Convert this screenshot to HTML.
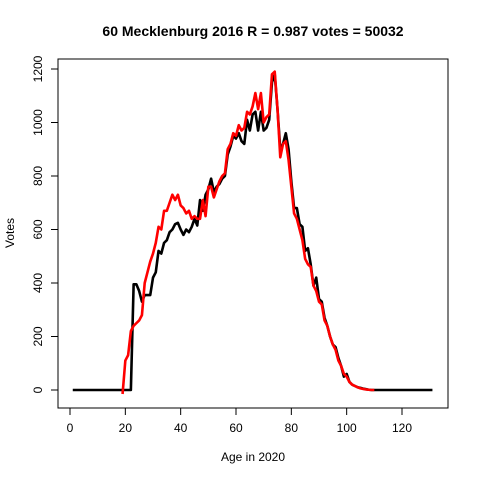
<!DOCTYPE html>
<html><head><meta charset="utf-8"><style>
body{margin:0;background:#fff}
svg{display:block;font-family:"Liberation Sans",Arial,sans-serif}
</style></head><body>
<svg id="c" width="480" height="480" viewBox="0 0 480 480">
<rect width="480" height="480" fill="#fff"/>
<text x="253" y="36" text-anchor="middle" font-size="14" font-weight="bold">60 Mecklenburg 2016 R = 0.987 votes = 50032</text>
<rect x="58" y="59" width="390" height="349" fill="none" stroke="#000"/>
<text x="253" y="461" text-anchor="middle" font-size="12">Age in 2020</text>
<text transform="translate(14,233) rotate(-90)" text-anchor="middle" font-size="12">Votes</text>
<g id="axes"></g>
<g id="series"></g>
</svg>
<script>
const xTicks=[0,20,40,60,80,100,120];
const yTicks=[0,200,400,600,800,1000,1200];
const blackAges=[1,22,23,24,25,26,27,28,29,30,31,32,33,34,35,36,37,38,39,40,41,42,43,44,45,46,47,48,49,50,51,52,53,54,55,56,57,58,59,60,61,62,63,64,65,66,67,68,69,70,71,72,73,74,75,76,77,78,79,80,81,82,83,84,85,86,87,88,89,90,91,92,93,94,95,96,97,98,99,100,101,102,103,104,105,106,107,108,109,131];
const blackVotes=[0,0,395,395,370,330,355,355,355,420,440,520,510,550,560,590,600,620,625,600,580,600,590,610,640,615,710,670,730,750,790,740,760,770,790,800,880,910,950,940,960,930,920,1010,970,1030,1040,970,1040,970,980,1010,1150,1180,1050,900,920,960,900,780,680,680,620,610,520,530,470,390,420,340,330,270,240,200,170,160,120,90,50,60,30,20,15,10,8,5,3,1,0,0];
const redAges=[19,20,21,22,23,24,25,26,27,28,29,30,31,32,33,34,35,36,37,38,39,40,41,42,43,44,45,46,47,48,49,50,51,52,53,54,55,56,57,58,59,60,61,62,63,64,65,66,67,68,69,70,71,72,73,74,75,76,77,78,79,80,81,82,83,84,85,86,87,88,89,90,91,92,93,94,95,96,97,98,99,100,101,102,103,104,105,106,107,108,109,110];
const redVotes=[-15,110,130,220,240,250,260,280,400,440,480,510,550,610,600,670,670,700,730,710,730,690,680,660,670,640,650,640,640,710,650,760,760,720,750,780,800,810,900,920,960,950,990,970,980,1040,1030,1060,1110,1050,1110,1000,1020,1030,1180,1190,1050,870,920,930,860,760,660,640,600,560,490,470,460,390,370,330,320,260,240,200,170,150,110,90,60,50,30,20,15,10,6,4,2,1,0,0];
const X=v=>70+v*(402-70)/120, Y=v=>390-v*(390-69)/1200;
const NS='http://www.w3.org/2000/svg';
const ax=document.getElementById('axes'), sr=document.getElementById('series');
function mk(t,a,p){const e=document.createElementNS(NS,t);for(const k in a)e.setAttribute(k,a[k]);p.appendChild(e);return e;}
let xl=mk('line',{x1:X(0),x2:X(120),y1:408,y2:408,stroke:'#000'},ax);


xTicks.forEach(v=>{
 const t=mk('line',{x1:X(v),x2:X(v),y1:408,y2:415,stroke:'#000'},ax);
 
 
 const l=mk('text',{x:X(v),y:432,'text-anchor':'middle','font-size':12},ax);l.textContent=v;
 
 
});
let yl=mk('line',{x1:58,x2:58,y1:Y(0),y2:Y(1200),stroke:'#000'},ax);


yTicks.forEach(v=>{
 const t=mk('line',{x1:51,x2:58,y1:Y(v),y2:Y(v),stroke:'#000'},ax);
 
 
 const l=mk('text',{x:0,y:0,'text-anchor':'middle','font-size':12,transform:`translate(42,${Y(v)}) rotate(-90)`},ax);l.textContent=v;
 
 
});
function line(xs,ys,c,name){
 const p=mk('polyline',{points:xs.map((x,i)=>X(x)+','+Y(ys[i])).join(' '),fill:'none',stroke:c,'stroke-width':2.6,'stroke-linejoin':'round'},sr);
 
 
}
line(blackAges,blackVotes,'#000','series-black');
line(redAges,redVotes,'#ff0000','series-red');
</script>
</body></html>
